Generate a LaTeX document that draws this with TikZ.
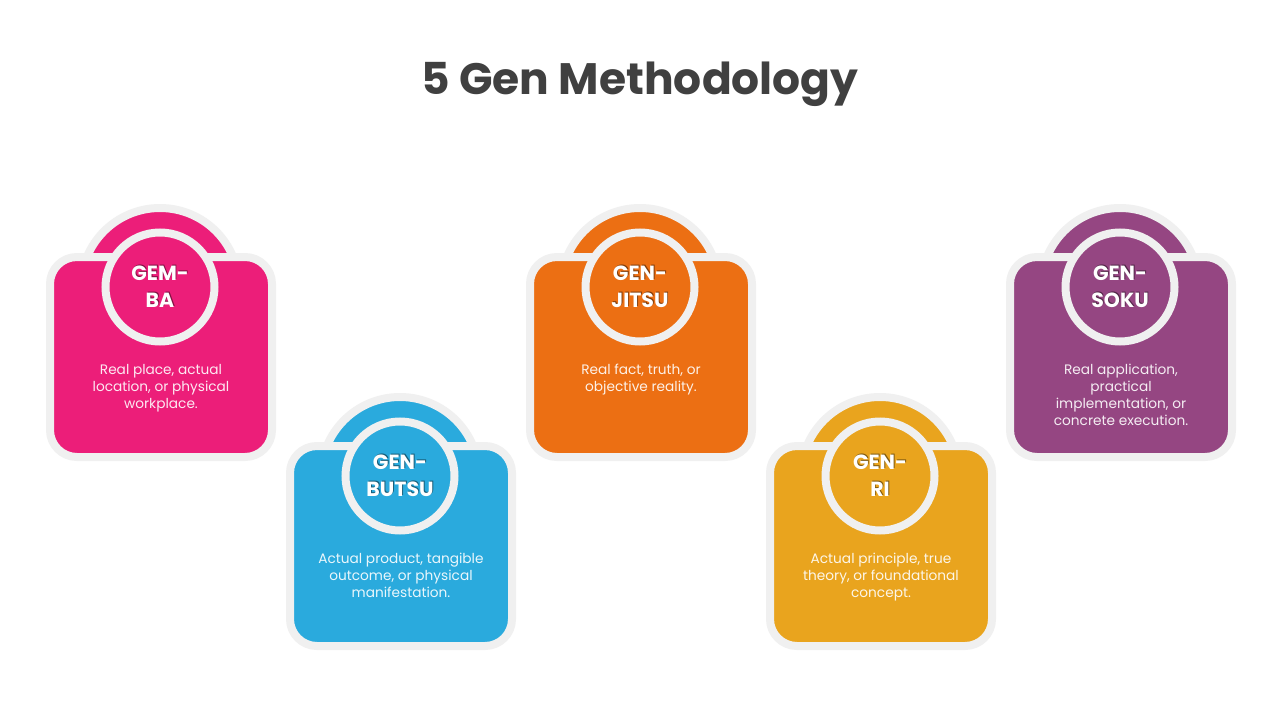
\documentclass[tikz,border=0pt]{standalone}
\usepackage{fontspec}
\setmainfont{Poppins}
\definecolor{gborder}{HTML}{F0F0F0}
\definecolor{titlegray}{HTML}{404040}
\definecolor{cpink}{HTML}{EC1E79}
\definecolor{cblue}{HTML}{2AAADD}
\definecolor{corange}{HTML}{EC6F13}
\definecolor{cyellow}{HTML}{E9A41E}
\definecolor{cpurple}{HTML}{954682}
\tikzset{
  titletext/.style={font=\bfseries\fontsize{44}{52}\selectfont, text=titlegray},
  bigarc/.style={draw=gborder, line width=8pt},
  cardbox/.style={draw=gborder, line width=8pt, rounded corners=27pt},
  ring/.style={circle, draw=gborder, line width=8pt, minimum size=109pt, inner sep=0pt},
  labeltext/.style={font=\bfseries\fontsize{20.5}{27}\selectfont, align=center, inner sep=0pt, text=white},
  labelshadow/.style={font=\bfseries\fontsize{20.5}{27}\selectfont, align=center, inner sep=0pt, text=black, text opacity=0.45},
  desctext/.style={font=\fontsize{13.7}{17}\selectfont, align=center, inner sep=0pt, text=white, text opacity=0.9, anchor=north}
}
\newcommand\gencard[6]{%
  % #1 name, #2 cx, #3 top, #4 color, #5 label, #6 description
  \begin{scope}[shift={(#2,#3)}]
    \draw[bigarc, fill=#4] (-1,34) circle (79);
    \draw[cardbox, fill=#4] (-111,4) rectangle (111,204);
    \node[ring, fill=#4] (#1) at (-1,34) {};
    \node[labelshadow] (#1-sh) at ($(#1)+(0.9,-0.9)$) {#5};
    \node[labeltext] (#1-label) at (#1) {#5};
    \node[desctext] (#1-desc) at (0,111) {#6};
  \end{scope}}
\usetikzlibrary{calc}
\begin{document}
\begin{tikzpicture}[x=1pt,y=-1pt]
\useasboundingbox (0,0) rectangle (1280,720);
\fill[white] (0,0) rectangle (1280,720);
\node[titletext] (title) at (640,84) {5 Gen Methodology};
\gencard{gemba}{161}{253}{cpink}{GEM-\\BA}{Real place, actual\\location, or physical\\workplace.}
\gencard{genbutsu}{401}{442}{cblue}{GEN-\\BUTSU}{Actual product, tangible\\outcome, or physical\\manifestation.}
\gencard{genjitsu}{641}{253}{corange}{GEN-\\JITSU}{Real fact, truth, or\\objective reality.}
\gencard{genri}{881}{442}{cyellow}{GEN-\\RI}{Actual principle, true\\theory, or foundational\\concept.}
\gencard{gensoku}{1121}{253}{cpurple}{GEN-\\SOKU}{Real application,\\practical\\implementation, or\\concrete execution.}
\end{tikzpicture}
\end{document}
